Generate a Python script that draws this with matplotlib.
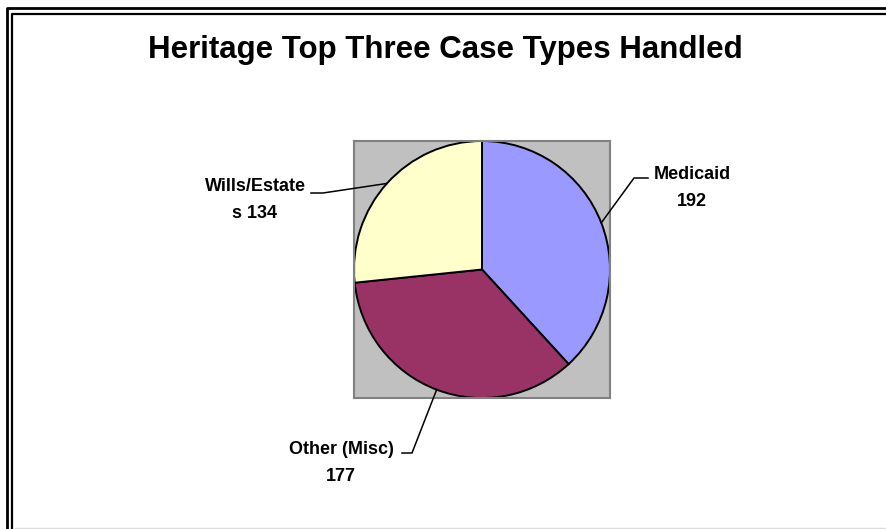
import numpy as np
import matplotlib
matplotlib.use("Agg")
import matplotlib.pyplot as plt
from matplotlib.lines import Line2D
from matplotlib.transforms import IdentityTransform

# case counts, clockwise from 12 o'clock
categories = ["Medicaid", "Other (Misc)", "Wills/Estates"]
counts = [192, 177, 134]
label_text = ["Medicaid\n192", "Other (Misc)\n177", "Wills/Estate\ns 134"]
colors = ["#9999FF", "#993366", "#FFFFCC"]
title = "Heritage Top Three Case Types Handled"

W, H = 887, 529
plt.rcParams['font.family'] = ['Liberation Sans', 'DejaVu Sans']

fig = plt.figure(figsize=(W / 100, H / 100), dpi=100)


def fpx(x, y):
    # image pixel (top-left origin) -> figure fraction
    return x / W, 1 - y / H


def dpx(x, y):
    # image pixel -> display pixel (bottom-left origin)
    return x, H - y


# double frame of the old chart area (runs off the right/bottom edge)
for x0, y0, lw in [(7, 8, 2.0), (12, 14, 1.6)]:
    fig.add_artist(Line2D([x0, x0, W + 5], [-5, H - y0, H - y0],
                          transform=IdentityTransform(), color="black", lw=lw))
fig.add_artist(Line2D([15, W], [1, 1], transform=IdentityTransform(),
                      color="#DDDDDD", lw=1))

fig.text(*fpx(445, 50), title, ha="center", va="center",
         fontsize=22.5, fontweight="bold")

# gray plot area, pie fills it
ax = fig.add_axes([354 / W, 1 - 398 / H, 256 / W, 257 / H])
wedges, _ = ax.pie(counts, colors=colors, startangle=90, counterclock=False,
                   radius=1, frame=True,
                   wedgeprops=dict(edgecolor="black", linewidth=1.4))
ax.set_xlim(-1, 1)
ax.set_ylim(-1, 1)
ax.set_aspect("auto")
ax.set_facecolor("#C0C0C0")
ax.set_xticks([])
ax.set_yticks([])
for sp in ax.spines.values():
    sp.set_color("#808080")
    sp.set_linewidth(1.5)

# label layout: elbow, line end, text centre (image pixels)
layout = [
    ((634, 178), (648, 178), (692, 188)),
    ((412, 453), (402, 453), (341, 463)),
    ((323, 193), (311, 193), (255, 200)),
]

fig.canvas.draw()
for w, txt, (elb, end, tc) in zip(wedges, label_text, layout):
    mid = np.deg2rad((w.theta1 + w.theta2) / 2)
    sx, sy = ax.transData.transform((np.cos(mid), np.sin(mid)))
    ex, ey = dpx(*elb)
    nx, ny = dpx(*end)
    fig.add_artist(Line2D([sx, ex, nx], [sy, ey, ny],
                          transform=IdentityTransform(), color="black", lw=1.1))
    fig.text(*fpx(*tc), txt, ha="center", va="center", fontsize=13,
             fontweight="bold", linespacing=1.8)

fig.savefig("out.png", dpi=100)
